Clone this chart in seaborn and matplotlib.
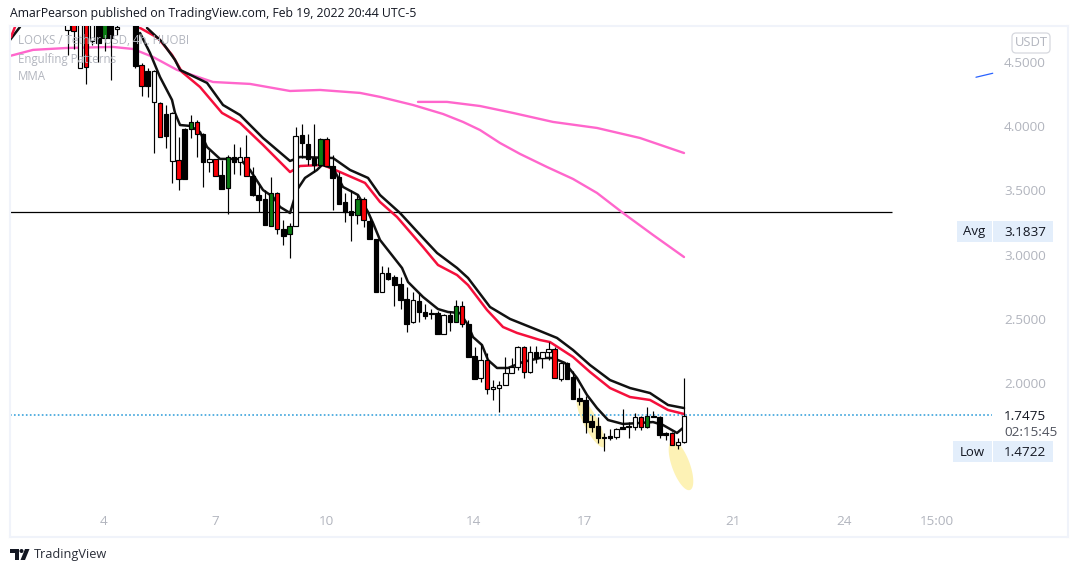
import numpy as np
import matplotlib
matplotlib.use('Agg')
import matplotlib.pyplot as plt
from matplotlib.patches import Rectangle, FancyBboxPatch, Polygon, Circle
import seaborn as sns

# --- candles, newest first ---
LAST_CANDLE = 19.68  # Feb 19, 4h bars
kinds = list("wwrkkkgrwkkwkkkkkkkkwrwwkwrwwwwwrwkkrgkwkkkkwkkkkwkkrgkkkkrgkkkwgkrgkkkrwkgkrwkrgkrwkrwkrkkkwkgkwrwr")
opens = [1.543, 1.520, 1.608, 1.611, 1.735, 1.746, 1.655, 1.733, 1.655, 1.665,
         1.655, 1.582, 1.587, 1.580, 1.665, 1.704, 1.868, 1.883, 2.047, 2.156,
         2.034, 2.262, 2.239, 2.195, 2.239, 2.088, 2.278, 2.127, 2.080, 1.987,
         1.964, 1.951, 2.176, 2.041, 2.210, 2.459, 2.602, 2.472, 2.529, 2.379,
         2.542, 2.542, 2.553, 2.638, 2.472, 2.654, 2.771, 2.823, 2.854, 2.706,
         3.119, 3.264, 3.430, 3.306, 3.337, 3.407, 3.604, 3.692, 3.897, 3.698,
         3.749, 3.859, 3.931, 3.220, 3.158, 3.197, 3.477, 3.225, 3.431, 3.464,
         3.612, 3.758, 3.719, 3.758, 3.516, 3.620, 3.742, 3.719, 3.939, 4.030,
         3.976, 3.586, 3.737, 4.106, 3.926, 4.178, 4.433, 4.316, 4.477, 4.900,
         5.000, 5.000, 4.770, 4.685, 4.850, 4.650, 4.850, 4.459, 4.900, 4.741,
         4.850]
highs = [2.037, 1.569, 1.621, 1.621, 1.743, 1.782, 1.811, 1.743, 1.764, 1.699,
         1.795, 1.647, 1.642, 1.608, 1.733, 1.751, 1.899, 1.959, 2.096, 2.161,
         2.161, 2.278, 2.322, 2.244, 2.288, 2.288, 2.288, 2.288, 2.192, 2.200,
         2.018, 2.021, 2.231, 2.304, 2.278, 2.491, 2.638, 2.646, 2.563, 2.537,
         2.563, 2.574, 2.613, 2.698, 2.711, 2.750, 2.828, 2.840, 2.901, 2.911,
         3.119, 3.295, 3.451, 3.464, 3.500, 3.477, 3.646, 3.775, 3.913, 3.905,
         4.017, 3.939, 4.017, 3.991, 3.243, 3.269, 3.490, 3.607, 3.500, 3.550,
         3.685, 3.932, 3.841, 3.862, 3.776, 3.737, 3.742, 3.815, 3.944, 4.048,
         4.087, 3.984, 3.919, 4.113, 4.165, 4.191, 4.438, 4.451, 4.490, 4.950,
         5.100, 5.100, 4.900, 4.900, 4.900, 4.900, 4.900, 4.900, 4.950, 4.900,
         4.900]
lows = [1.536, 1.489, 1.520, 1.556, 1.574, 1.733, 1.647, 1.634, 1.634, 1.574,
        1.645, 1.567, 1.559, 1.473, 1.530, 1.621, 1.613, 1.831, 1.878, 2.034,
        2.018, 2.037, 2.179, 2.120, 2.153, 2.080, 2.041, 2.101, 2.080, 1.987,
        1.777, 1.867, 1.914, 2.010, 2.034, 2.205, 2.439, 2.472, 2.407, 2.379,
        2.379, 2.496, 2.501, 2.478, 2.465, 2.400, 2.579, 2.602, 2.802, 2.706,
        2.706, 3.124, 3.217, 3.236, 3.108, 3.256, 3.396, 3.347, 3.690, 3.690,
        3.646, 3.698, 3.749, 3.220, 2.971, 3.075, 3.158, 3.225, 3.233, 3.329,
        3.460, 3.612, 3.620, 3.628, 3.314, 3.514, 3.615, 3.646, 3.529, 3.763,
        3.911, 3.586, 3.503, 3.560, 3.833, 3.919, 3.794, 4.230, 4.238, 4.456,
        4.900, 4.900, 4.710, 4.360, 4.588, 4.502, 4.630, 4.326, 4.451, 4.599,
        4.555]
closes = [1.746, 1.543, 1.520, 1.598, 1.598, 1.733, 1.746, 1.655, 1.733, 1.657,
          1.645, 1.645, 1.574, 1.574, 1.574, 1.660, 1.699, 1.863, 1.878, 2.034,
          2.156, 2.037, 2.262, 2.239, 2.192, 2.239, 2.088, 2.278, 2.127, 2.080,
          1.987, 1.966, 1.951, 2.176, 2.034, 2.205, 2.459, 2.602, 2.472, 2.527,
          2.379, 2.535, 2.524, 2.555, 2.644, 2.462, 2.649, 2.766, 2.810, 2.854,
          2.706, 3.124, 3.267, 3.430, 3.306, 3.329, 3.396, 3.599, 3.690, 3.897,
          3.698, 3.742, 3.866, 3.926, 3.220, 3.147, 3.197, 3.477, 3.233, 3.425,
          3.467, 3.612, 3.758, 3.719, 3.758, 3.514, 3.615, 3.742, 3.719, 3.939,
          4.030, 3.976, 3.586, 3.732, 4.095, 3.919, 4.186, 4.433, 4.313, 4.472,
          4.950, 4.950, 4.753, 4.850, 4.689, 4.850, 4.666, 4.850, 4.451, 4.850,
          4.749]

# --- moving averages ---
fast_x = [4.973, 5.243, 5.513, 5.838, 5.919, 6.054, 6.324, 6.595, 6.784, 7.135, 7.676, 7.946, 8.297,
          8.568, 8.757, 9.027, 9.216, 9.432, 9.757, 9.892, 10.189, 10.459, 10.865, 11.135, 11.270,
          11.459, 12.054, 12.216, 12.622, 13.027, 13.297, 13.622, 13.838, 13.973, 14.216, 14.378,
          14.622, 14.919, 15.324, 15.784, 16.135, 16.459, 16.784, 17.054, 17.324, 17.622, 18.027,
          18.486, 18.838, 19.108, 19.486, 19.676]
fast_y = [4.726, 4.570, 4.383, 4.204, 4.103, 4.009, 4.002, 3.955, 3.838, 3.745, 3.745, 3.659, 3.503,
          3.449, 3.371, 3.324, 3.503, 3.597, 3.659, 3.698, 3.675, 3.527, 3.464, 3.332, 3.246,
          3.114, 2.896, 2.787, 2.670, 2.576, 2.553, 2.545, 2.452, 2.358, 2.296, 2.179,
          2.117, 2.117, 2.164, 2.195, 2.195, 2.156, 2.039, 1.907, 1.805, 1.712, 1.681,
          1.689, 1.696, 1.673, 1.611, 1.657]
slow_x = [5.162, 5.568, 5.919, 6.054, 6.784, 7.216, 7.676, 8.297, 9.027, 9.297, 10.189, 10.649, 11.135,
          11.459, 12.0, 12.622, 13.0, 13.541, 13.838, 14.432, 14.973, 15.784, 16.243, 16.676, 17.135,
          17.676, 18.216, 18.757, 19.243, 19.676]
slow_y = [4.765, 4.656, 4.516, 4.438, 4.337, 4.165, 4.087, 3.908, 3.729, 3.760, 3.752, 3.659, 3.597,
          3.464, 3.324, 3.129, 3.013, 2.896, 2.818, 2.592, 2.499, 2.405, 2.351, 2.257, 2.140,
          2.023, 1.961, 1.922, 1.829, 1.805]
red_x = [4.973, 5.459, 5.838, 6.108, 6.595, 7.189, 7.676, 8.297, 9.027, 9.297, 9.919, 10.378, 11.054,
         11.459, 11.919, 12.622, 13.027, 13.541, 13.838, 14.351, 14.784, 15.162, 15.784, 16.054,
         16.676, 17.135, 17.676, 18.216, 18.757, 19.243, 19.676]
red_y = [4.765, 4.687, 4.555, 4.422, 4.305, 4.103, 4.025, 3.854, 3.643, 3.690, 3.698, 3.643, 3.558,
         3.410, 3.293, 3.059, 2.919, 2.841, 2.763, 2.569, 2.436, 2.390, 2.335, 2.319,
         2.203, 2.086, 1.961, 1.891, 1.868, 1.790, 1.759]
pink_x = [1.459, 2.081, 3.0, 4.243, 4.784, 5.324, 5.973, 6.946, 7.946, 9.027, 9.838, 10.919, 11.459,
          12.351, 13.162, 13.703, 14.162, 14.703, 15.243, 15.973, 16.676, 17.324, 18.027, 18.838, 19.676]
pink_y = [4.547, 4.594, 4.609, 4.617, 4.601, 4.539, 4.438, 4.344, 4.329, 4.274, 4.282, 4.259, 4.228,
          4.165, 4.095, 4.033, 3.970, 3.869, 3.784, 3.682, 3.589, 3.480, 3.324, 3.153, 2.981]
pink2_x = [12.486, 13.27, 14.162, 15.054, 16.135, 17.324, 18.486, 19.676]
pink2_y = [4.189, 4.189, 4.157, 4.103, 4.033, 3.986, 3.908, 3.791]
left_black_x = [1.459, 1.73]
left_black_y = [4.671, 4.773]
left_red_x = [1.486, 1.594]
left_red_y = [4.695, 4.773]

# --- drawings ---
hline_price = 3.328
hline_end = 25.30
blue_x = [27.567, 28.02]
blue_y = [4.381, 4.412]
last_price = 1.7475
last_line_end = 28.0
# centre, long half axis, short half axis in (day, price)
ellipses = [((17.162, 1.692), (0.351, -0.191), (0.165, 0.03)),
            ((19.594, 1.358), (0.243, -0.191), (0.227, 0.024))]

price_ticks = [2.0, 2.5, 3.0, 3.5, 4.0, 4.5]
day_ticks = [4, 7, 10, 14, 17, 21, 24, 26.51]
day_labels = ['4', '7', '10', '14', '17', '21', '24', '15:00']

W, H = 1079, 572
GREY = '#b2b5be'
DARK = '#131722'
BODY = {'k': 'black', 'w': 'white', 'r': '#fb0007', 'g': '#0a7d12'}

sns.set_theme(style='white')
plt.rcParams['font.family'] = ['Open Sans', 'DejaVu Sans']

fig = plt.figure(figsize=(W / 100, H / 100), dpi=100, facecolor='white')
ax = fig.add_axes([10 / W, 1 - 537 / H, 1058 / W, 511 / H])
ax.set_xlim(1.459, 30.054)
ax.set_ylim(0.801, 4.780)

# 高亮椭圆
for ctr, a, b in ellipses:
    t = np.linspace(0, 2 * np.pi, 80)
    ex = ctr[0] + a[0] * np.cos(t) + b[0] * np.sin(t)
    ey = ctr[1] + a[1] * np.cos(t) + b[1] * np.sin(t)
    ax.fill(ex, ey, color='#fdf2b5', lw=0, zorder=1)

ax.hlines(hline_price, 1.459, hline_end, color='black', lw=0.9, zorder=1.5)
ax.hlines(last_price, 1.459, last_line_end, color='#2b9bd8', lw=1.1, ls=(0, (1.1, 1.5)), zorder=1.6)

# 均线
line_kw = dict(errorbar=None, estimator=None, sort=False, legend=False, ax=ax, zorder=2)
sns.lineplot(x=pink_x, y=pink_y, color='#ff66cc', linewidth=1.7, **line_kw)
sns.lineplot(x=pink2_x, y=pink2_y, color='#ff66cc', linewidth=1.7, **line_kw)
sns.lineplot(x=red_x, y=red_y, color='#f5103c', linewidth=1.8, **line_kw)
sns.lineplot(x=slow_x, y=slow_y, color='#111111', linewidth=1.8, **line_kw)
sns.lineplot(x=fast_x, y=fast_y, color='#111111', linewidth=1.8, **line_kw)
sns.lineplot(x=left_black_x, y=left_black_y, color='#111111', linewidth=1.8, **line_kw)
sns.lineplot(x=left_red_x, y=left_red_y, color='#f5103c', linewidth=1.8, **line_kw)
sns.lineplot(x=blue_x, y=blue_y, color='#2962ff', linewidth=0.9, **line_kw)

# K 线
days = LAST_CANDLE - np.arange(len(opens)) / 6
o, h, l, c = map(np.array, (opens, highs, lows, closes))
ax.vlines(days, l, h, color='black', lw=0.85, zorder=3)
ax.bar(days, np.abs(o - c), bottom=np.minimum(o, c), width=0.118,
       color=[BODY[k] for k in kinds], edgecolor='black', linewidth=0.85, zorder=4)

ax.set_yticks(price_ticks, [f'{p:.4f}' for p in price_ticks])
ax.set_xticks(day_ticks, day_labels)
ax.tick_params(axis='y', left=False, right=False, labelleft=False, labelright=True,
               length=0, pad=-46, labelsize=9.7, labelcolor=GREY)
ax.tick_params(axis='x', bottom=False, length=0, pad=-16, labelsize=9.7, labelcolor=GREY)
for s in ax.spines.values():
    s.set_color('#f0f3fa')
    s.set_linewidth(1.5)

# 图外文字和标签，用像素坐标
top = fig.add_axes([0, 0, 1, 1], facecolor='none', zorder=10)
top.set_xlim(0, W)
top.set_ylim(H, 0)
top.axis('off')

top.text(10, 14, 'AmarPearson published on TradingView.com, Feb 19, 2022 20:44 UTC-5',
         fontsize=8.8, color=DARK, va='center')
for y, txt in [(41, 'LOOKS / Tether USD, 4h, HUOBI'), (59, 'Engulfing Patterns'), (76, 'MMA')]:
    top.text(18, y, txt, fontsize=8.3, color=GREY, va='center')

top.add_patch(FancyBboxPatch((1013, 34), 36, 18, boxstyle='round,pad=1,rounding_size=4',
                             fc='white', ec='#d6d8de', lw=0.9))
top.text(1031, 43, 'USDT', fontsize=9.4, color=GREY, ha='center', va='center')

for y0, label, x0 in [(221, 'Avg', 957), (441, 'Low', 953)]:
    top.add_patch(Rectangle((x0, y0), 992 - x0, 21, fc='#e3eefb', lw=0))
    top.add_patch(Rectangle((993, y0), 60, 21, fc='#e3eefb', lw=0))
    top.text((x0 + 992) / 2, y0 + 11, label, fontsize=9.5, color=DARK, ha='center', va='center')
top.text(1004, 232, '3.1837', fontsize=9.7, color=DARK, va='center')
top.text(1004, 452, '1.4722', fontsize=9.7, color=DARK, va='center')
top.text(1004, 416, '1.7475', fontsize=9.7, color=DARK, va='center')
top.text(1004, 432, '02:15:45', fontsize=9.7, color='#50535e', va='center')

# TradingView 标志
top.add_patch(Polygon([(10, 549), (19, 549), (19, 560), (15, 560), (15, 553), (10, 553)], fc=DARK, lw=0))
top.add_patch(Circle((21.5, 551), 2, fc=DARK, lw=0))
top.add_patch(Polygon([(25, 549), (29.5, 549), (25, 560), (20.5, 560)], fc=DARK, lw=0))
top.text(34, 554.5, 'TradingView', fontsize=9.2, color='#2a2e39', va='center')

fig.savefig('out.png', dpi=100)
